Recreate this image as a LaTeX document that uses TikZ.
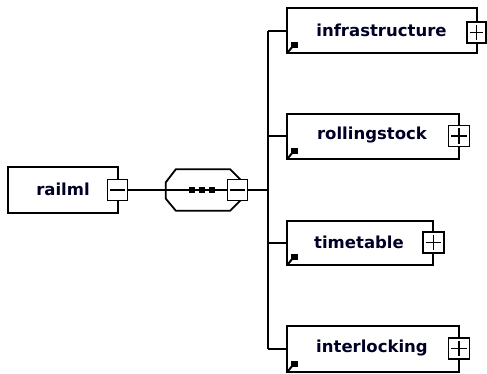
\documentclass[tikz,border=0pt]{standalone}
\usepackage{fontspec}
\setmainfont{DejaVu Sans}
\usetikzlibrary{calc}
\tikzset{
  txt/.style={font=\fontsize{16.5}{18}\selectfont\bfseries, text=black!85!blue, inner sep=0pt},
  elem/.style={draw=black, line width=1.8pt, fill=white, inner sep=0pt},
  togglebox/.style={draw=black, line width=1.8pt, fill=white, inner sep=0pt,
    minimum width=20pt, minimum height=21pt},
  wire/.style={line width=1.8pt, black},
  sign/.style={line width=1.8pt, black},
  dotsq/.style={fill=black, draw=none, minimum size=6pt, inner sep=0pt},
}
\newcommand{\linkicon}[1]{%
  \fill[black] ($(#1.south west)+(5,-12)$) rectangle ($(#1.south west)+(12,-6)$);
  \draw[line width=2pt] ($(#1.south west)+(7,-8)$) -- ($(#1.south west)+(2,-2)$);
}
\newcommand{\minussign}[1]{%
  \draw[sign] ($(#1.west)+(3.5,0)$) -- ($(#1.east)+(-3.5,0)$);
}
\newcommand{\plussign}[1]{%
  \draw[sign] ($(#1.west)+(3.5,0)$) -- ($(#1.east)+(-3.5,0)$);
  \draw[sign] ($(#1.north)+(0,3.5)$) -- ($(#1.south)+(0,-3.5)$);
}
\begin{document}
\begin{tikzpicture}[x=1pt,y=-1pt]
\useasboundingbox (0,0) rectangle (487,373);
% root
\node[elem, minimum width=110pt, minimum height=46pt] (railml) at (63,190) {};
\node[txt] (railmltxt) at (63,189) {railml};
\node[togglebox] (rminus) at (117.5,190) {};
\minussign{rminus}
% sequence compositor
\node[minimum width=76pt, minimum height=41pt, inner sep=0pt] (seq) at (204,190) {};
\draw[line width=1.8pt, fill=white]
  ($(seq.north west)+(0,13)$) -- ($(seq.north west)+(10,0)$) --
  ($(seq.north east)+(-12,0)$) -- ($(seq.north east)+(0,12)$) --
  ($(seq.south east)+(0,-12)$) -- ($(seq.south east)+(-12,0)$) --
  ($(seq.south west)+(10,0)$) -- ($(seq.south west)+(0,-12)$) -- cycle;
\node[togglebox] (sminus) at (237.5,190) {};
\minussign{sminus}
\draw[wire] (rminus.east) -- (seq.west);
\draw[wire] (seq.west) -- (sminus.west);
\node[dotsq] (d1) at (192,190) {};
\node[dotsq] (d2) at (202,190) {};
\node[dotsq] (d3) at (212,190) {};
% bus
\coordinate (bj) at (268,190);
\coordinate (b1) at (268,31);
\coordinate (b2) at (268,136);
\coordinate (b3) at (268,243);
\coordinate (b4) at (268,349);
\draw[wire] (sminus.east) -- (bj);
\draw[wire] (b1) -- (b4);
% children
\node[elem, minimum width=190pt, minimum height=45pt] (infra) at (382,30.5) {};
\node[txt] (infratxt) at (381.5,30) {infrastructure};
\node[togglebox, minimum width=19pt] (iplus) at (476.5,32.5) {};
\plussign{iplus}
\node[elem, minimum width=172pt, minimum height=45pt] (rolling) at (373,136.5) {};
\node[txt] (rollingtxt) at (372,135) {rollingstock};
\node[togglebox, minimum width=21pt] (rplus) at (459,136) {};
\plussign{rplus}
\node[elem, minimum width=146pt, minimum height=44pt] (time) at (360,243) {};
\node[txt] (timetxt) at (359,242) {timetable};
\node[togglebox, minimum width=21pt] (tplus) at (433.5,242.5) {};
\plussign{tplus}
\node[elem, minimum width=172pt, minimum height=46pt] (inter) at (373,349) {};
\node[txt] (intertxt) at (372,348) {interlocking};
\node[togglebox, minimum width=21pt] (xplus) at (459,348.5) {};
\plussign{xplus}
\draw[wire] (b1) -- (infra.west |- b1);
\draw[wire] (b2) -- (rolling.west |- b2);
\draw[wire] (b3) -- (time.west |- b3);
\draw[wire] (b4) -- (inter.west |- b4);
\linkicon{infra}
\linkicon{rolling}
\linkicon{time}
\linkicon{inter}
\end{tikzpicture}
\end{document}
